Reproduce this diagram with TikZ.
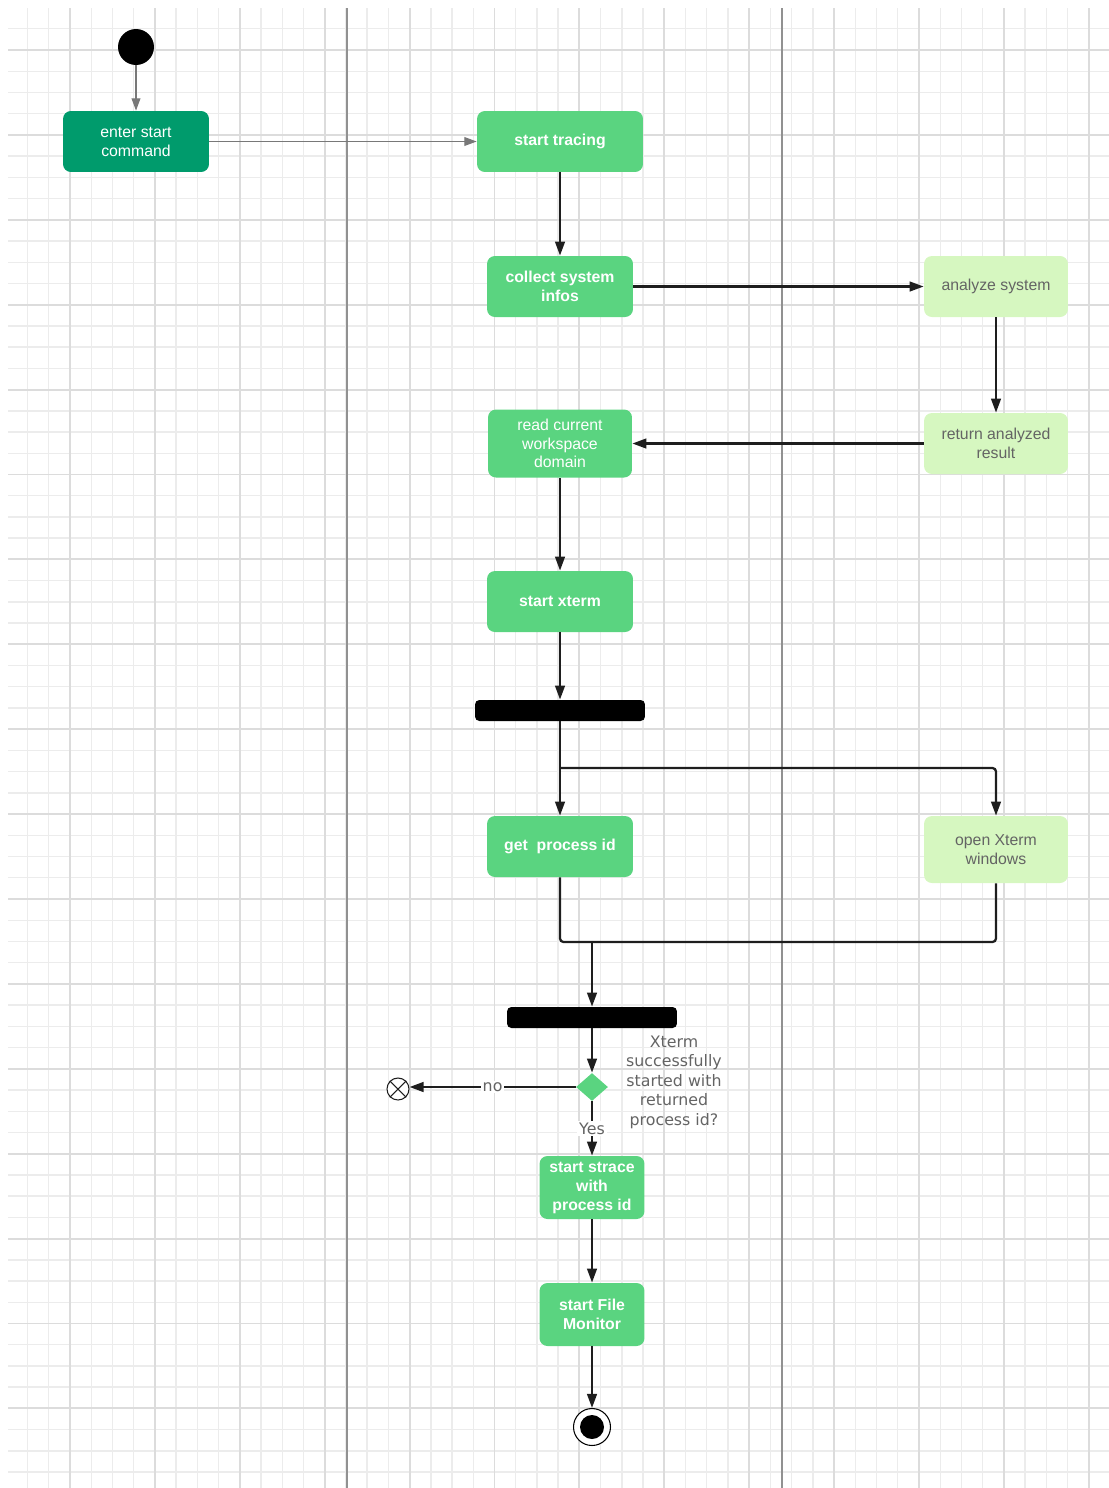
\documentclass[tikz,border=0pt]{standalone}
\usepackage{fontspec}
\setmainfont{Liberation Sans}
\newfontfamily\noteface{DejaVu Sans}
\usepackage{xcolor}
\usepackage{tikz}
\usetikzlibrary{calc,arrows.meta,positioning,shapes.geometric}
\definecolor{actGreen}{RGB}{90,212,128}
\definecolor{actGreenDark}{RGB}{0,155,108}
\definecolor{actGreenPale}{RGB}{214,247,192}
\definecolor{adgray}{RGB}{100,100,100}
\definecolor{adgrid}{RGB}{236,236,236}
\definecolor{adgridmajor}{RGB}{220,220,220}
\definecolor{adlane}{RGB}{145,145,145}
\definecolor{adline}{RGB}{30,30,30}
\definecolor{adgreyline}{RGB}{120,120,120}

\begin{document}
\begin{tikzpicture}[x=0.02cm,y=-0.02cm,
    act/.style={rectangle, rounded corners=4.5pt, fill=actGreen, text=white,
        font=\fontsize{9}{10.8}\selectfont\bfseries, align=center,
        minimum width=2.92cm, minimum height=1.22cm, inner sep=2pt},
    paleact/.style={act, fill=actGreenPale, text=adgray,
        font=\fontsize{9}{10.8}\selectfont, minimum width=2.88cm},
    bar/.style={rectangle, rounded corners=2.5pt, fill=black,
        minimum width=3.4cm, minimum height=0.42cm, inner sep=0pt},
    flow/.style={draw=adline, line width=1.3pt, -{Triangle[length=8pt,width=5.5pt]}},
    greyflow/.style={draw=adgreyline, line width=0.7pt, -{Triangle[length=7pt,width=5pt]}},
    note/.style={font=\noteface\fontsize{9}{11.1}\selectfont, text=adgray, inner sep=1pt}
]
\useasboundingbox (0,0) rectangle (1109,1488);

% =========================
% background grid and lanes
% =========================
\begin{scope}
    \clip (8,8) rectangle (1109,1488);
    \foreach \i in {-3,...,49}
        \draw[adgrid, line width=0.8pt] ({70+21.225*\i},8) -- ({70+21.225*\i},1488);
    \foreach \j in {-2,...,68}
        \draw[adgrid, line width=0.8pt] (8,{50+21.225*\j}) -- (1109,{50+21.225*\j});
    \foreach \i in {0,...,12}
        \draw[adgridmajor, line width=1.1pt] ({70+84.9*\i},8) -- ({70+84.9*\i},1488);
    \foreach \j in {0,...,17}
        \draw[adgridmajor, line width=1.1pt] (8,{50+84.9*\j}) -- (1109,{50+84.9*\j});
\end{scope}

% lane dividers
\draw[adlane, line width=1.1pt] (347,8) -- (347,1488);
\draw[adlane, line width=1.1pt] (782,8) -- (782,1488);

% =========================
% nodes
% =========================
\node[circle, fill=black, minimum size=0.72cm, inner sep=0pt] (init) at (136,47) {};
\node[act, fill=actGreenDark, font=\fontsize{9}{10.8}\selectfont] (enter) at (136,141.5) {enter start\\command};
\node[act, minimum width=3.32cm] (tracing) at (560,141.5) {start tracing};
\node[act] (collect) at (560,286.5) {collect system\\infos};
\node[paleact] (analyze) at (996,286.5) {analyze system};
\node[paleact] (result) at (996,443.5) {return analyzed\\result};
\node[act, minimum width=2.88cm, minimum height=1.36cm,
      font=\fontsize{9}{10.4}\selectfont] (readws) at (560,443.5) {read current\\workspace\\domain};
\node[act] (xterm) at (560,601.5) {start xterm};

\node[bar] (fork) at (560,710.5) {};
\node[act] (getpid) at (560,846.5) {get~ process id};
\node[paleact, minimum height=1.34cm] (openx) at (996,849.5) {open Xterm\\windows};
\node[bar] (join) at (592,1017.5) {};

\node[diamond, fill=actGreen, minimum width=0.64cm, minimum height=0.56cm, inner sep=0pt] (decide) at (592,1087) {};
\node[note, align=center] (question) at (674,1082)
    {Xterm\\successfully\\started with\\returned\\process id?};
\node[circle, draw=adline, fill=white, line width=0.6pt, minimum size=0.44cm, inner sep=0pt] (flowend) at (398,1089) {};
\draw[adline, line width=0.6pt] (flowend.north west) -- (flowend.south east);
\draw[adline, line width=0.6pt] (flowend.north east) -- (flowend.south west);

\node[act, minimum width=2.1cm, minimum height=1.26cm] (strace) at (592,1187.5) {start strace\\with\\process id};
\node[act, minimum width=2.1cm, minimum height=1.26cm] (filemon) at (592,1314.5) {start File\\Monitor};

\node[circle, draw=black, fill=white, line width=0.6pt, minimum size=0.74cm, inner sep=0pt] (finish) at (592,1427) {};
\fill[black] (finish.center) circle (0.24cm);

% =========================
% connectors
% =========================
\draw[greyflow] (init) -- (enter);
\draw[greyflow] (enter) -- (tracing);
\draw[flow] (tracing) -- (collect);
\draw[flow] (collect) -- (analyze);
\draw[flow] (analyze) -- (result);
\draw[flow] (result) -- (readws);
\draw[flow] (readws) -- (xterm);
\draw[flow] (xterm) -- (fork);

% fork
\coordinate (split) at (560,768);
\draw[flow] (fork) -- (getpid);
\draw[flow, rounded corners=2pt] (split) -| (openx);

% merge
\coordinate (merge) at (592,942);
\draw[adline, line width=1.3pt, rounded corners=2pt] (getpid) |- (merge);
\draw[adline, line width=1.3pt, rounded corners=2pt] (openx) |- (merge);
\draw[flow] (merge) -- (join);
\draw[flow] (join) -- (decide);

% decision
\draw[flow] (decide.west) -- node[note, fill=white] {no} (decide.west -| flowend.east);
\draw[flow] (decide) -- node[note, fill=white] {Yes} (strace);
\draw[flow] (strace) -- (filemon);
\draw[flow] (filemon) -- (finish);

\end{tikzpicture}
\end{document}
